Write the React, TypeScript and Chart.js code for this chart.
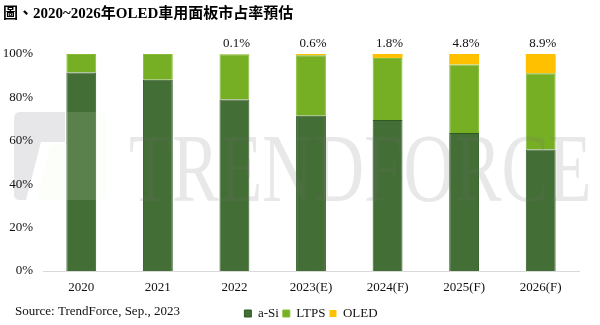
import React, { useEffect, useRef } from "react";
import { Chart, registerables } from "chart.js";

Chart.register(...registerables);

const categories = ["2020", "2021", "2022", "2023(E)", "2024(F)", "2025(F)", "2026(F)"];
const aSiValues = [91.5, 88.1, 79.0, 71.6, 69.6, 63.6, 56.0];
const ltpsValues = [8.5, 11.9, 20.9, 27.8, 28.6, 31.6, 35.1];
const oledValues = [0, 0, 0.1, 0.6, 1.8, 4.8, 8.9];
const oledLabels = ["", "", "0.1%", "0.6%", "1.8%", "4.8%", "8.9%"];
const yTicks = [0, 20, 40, 60, 80, 100];

const TITLE = "圖、2020~2026年OLED車用面板市占率預估";
const SOURCE = "Source: TrendForce, Sep., 2023";
const SERIF = "'Liberation Serif', 'Times New Roman', 'Noto Sans CJK TC', serif";

const decorPlugin = {
  id: "decor",
  beforeDraw(chart: any) {
    const ctx = chart.ctx;
    ctx.save();
    ctx.fillStyle = "#000";
    ctx.textBaseline = "middle";
    ctx.textAlign = "left";
    ctx.font = `bold 15px ${SERIF}`;
    ctx.fillText(TITLE, 3, 14);
    ctx.font = `13px ${SERIF}`;
    ctx.fillStyle = "#111";
    ctx.fillText(SOURCE, 15, 312);
    // logo watermark (gray part)
    ctx.fillStyle = "#e7e7e9";
    ctx.beginPath();
    ctx.moveTo(20, 112);
    ctx.lineTo(65, 112);
    ctx.lineTo(65, 142);
    ctx.lineTo(41, 142);
    ctx.lineTo(26, 200);
    ctx.lineTo(20, 200);
    ctx.quadraticCurveTo(14, 200, 14, 194);
    ctx.lineTo(14, 118);
    ctx.quadraticCurveTo(14, 112, 20, 112);
    ctx.closePath();
    ctx.fill();
    ctx.restore();
  },
  afterDatasetsDraw(chart: any) {
    const ctx = chart.ctx;
    ctx.save();
    // logo watermark (pale green part)
    ctx.fillStyle = "rgba(235,245,220,0.14)";
    ctx.beginPath();
    ctx.moveTo(67, 112);
    ctx.lineTo(101, 112);
    ctx.quadraticCurveTo(107, 112, 107, 118);
    ctx.lineTo(107, 194);
    ctx.quadraticCurveTo(107, 200, 101, 200);
    ctx.lineTo(37, 200);
    ctx.lineTo(50, 145);
    ctx.lineTo(67, 145);
    ctx.closePath();
    ctx.fill();
    // text watermark
    ctx.fillStyle = "rgba(110,110,110,0.16)";
    ctx.textBaseline = "alphabetic";
    ctx.textAlign = "left";
    ctx.font = `98px ${SERIF}`;
    ctx.translate(129, 201);
    ctx.scale(0.72, 1);
    ctx.fillText("TRENDFORCE", 0, 0);
    ctx.restore();

    // data labels above stacks
    const meta = chart.getDatasetMeta(2);
    ctx.save();
    ctx.font = `13px ${SERIF}`;
    ctx.fillStyle = "#111";
    ctx.textAlign = "center";
    ctx.textBaseline = "middle";
    meta.data.forEach((el: any, i: number) => {
      const t = oledLabels[i];
      if (!t) return;
      ctx.fillText(t, el.x + 2, el.y - 10);
    });
    ctx.restore();
  },
};

export default function App() {
  const ref = useRef<HTMLCanvasElement | null>(null);
  useEffect(() => {
    document.body.style.margin = "0";
    const c = ref.current;
    if (!c) return;
    const chart = new Chart(c, {
      type: "bar",
      data: {
        labels: categories,
        datasets: [
          {
            label: "a-Si",
            data: aSiValues,
            backgroundColor: "#436E35",
            borderColor: "#2F5A24",
            borderWidth: 1,
          },
          {
            label: "LTPS",
            data: ltpsValues,
            backgroundColor: "#76AE24",
            borderColor: "#86BB3A",
            borderWidth: 1,
          },
          {
            label: "OLED",
            data: oledValues,
            backgroundColor: "#FFC000",
            borderWidth: 0,
          },
        ],
      },
      options: {
        animation: false,
        responsive: true,
        maintainAspectRatio: false,
        layout: { padding: { top: 54, left: 0, right: 21, bottom: -5 } },
        datasets: { bar: { categoryPercentage: 1, barPercentage: 0.39 } },
        scales: {
          x: {
            stacked: true,
            grid: { display: false, drawTicks: false },
            border: { display: true, color: "#d9d9d9", width: 1 },
            ticks: { color: "#111", font: { family: SERIF, size: 13 }, padding: 9, maxRotation: 0 },
            afterFit: (s: any) => {
              s.height = 32;
            },
          },
          y: {
            stacked: true,
            min: 0,
            max: 100,
            afterBuildTicks: (s: any) => {
              s.ticks = yTicks.map((v) => ({ value: v }));
            },
            grid: { display: false, drawTicks: false },
            border: { display: false },
            ticks: {
              color: "#111",
              font: { family: SERIF, size: 13 },
              padding: 10,
              callback: (v: any) => v + "%",
            },
            afterFit: (s: any) => {
              s.width = 43;
            },
          },
        },
        plugins: {
          title: { display: false },
          tooltip: { enabled: false },
          legend: {
            position: "bottom",
            fullSize: false,
            labels: {
              boxWidth: 7,
              boxHeight: 7,
              padding: 4,
              color: "#111",
              font: { family: SERIF, size: 13 },
            },
          },
        },
      },
      plugins: [decorPlugin],
    } as any);
    return () => chart.destroy();
  }, []);
  return (
    <div style={{ width: 600, height: 325, position: "relative" }}>
      <canvas ref={ref} />
    </div>
  );
}
